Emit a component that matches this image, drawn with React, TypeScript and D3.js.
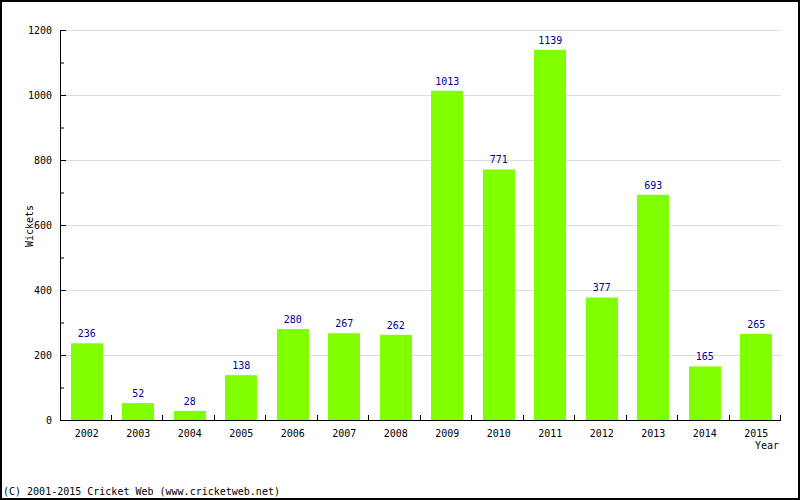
import React from "react";
import * as d3 from "d3";

const years = ["2002","2003","2004","2005","2006","2007","2008","2009","2010","2011","2012","2013","2014","2015"];
const wickets = [236, 52, 28, 138, 280, 267, 262, 1013, 771, 1139, 377, 693, 165, 265];
const yTicks = [0, 200, 400, 600, 800, 1000, 1200];
const yMinorTicks = [100, 300, 500, 700, 900, 1100];

const W = 800, H = 500;
const left = 60, right = 781, top = 30, bottom = 420;
const font = "'DejaVu Sans Mono', monospace";

export default function App() {
  const x = d3.scaleBand<string>().domain(years).range([left, right]).paddingInner(0).paddingOuter(0);
  const y = d3.scaleLinear().domain([0, 1200]).range([bottom, top]);
  const bw = 32;
  return (
    <svg width={W} height={H} style={{ position: "absolute", left: 0, top: 0, display: "block" }}>
      <rect x={0} y={0} width={W} height={H} fill="#fff" />
      {yTicks.filter(t => t > 0).map(t => (
        <line key={"g" + t} x1={left + 6} x2={right} y1={y(t) + 0.5} y2={y(t) + 0.5} stroke="#dddddd" strokeWidth={1} />
      ))}
      {years.map((yr, i) => {
        const cx = x(yr)! + x.bandwidth() / 2;
        const v = wickets[i];
        return (
          <g key={yr}>
            <rect x={Math.round(cx - bw / 2 + 1)} y={y(v)} width={bw} height={bottom - y(v)} fill="#80ff00" />
            <text x={cx + 1} y={y(v) - 6} textAnchor="middle" fontFamily={font} fontSize={10} fill="#000099">{v}</text>
            <text x={cx + 1} y={437} textAnchor="middle" fontFamily={font} fontSize={10} fill="#000">{yr}</text>
          </g>
        );
      })}
      {/* Y axis */}
      <line x1={left + 0.5} x2={left + 0.5} y1={top} y2={bottom + 1} stroke="#000" strokeWidth={1} />
      {yTicks.map(t => (
        <g key={"t" + t}>
          <line x1={left} x2={left + 6} y1={y(t) + 0.5} y2={y(t) + 0.5} stroke="#000" />
          <text x={52} y={y(t) + 4} textAnchor="end" fontFamily={font} fontSize={10} fill="#000">{t}</text>
        </g>
      ))}
      {yMinorTicks.map(t => (
        <line key={"m" + t} x1={left} x2={left + 4} y1={y(t) + 0.5} y2={y(t) + 0.5} stroke="#000" />
      ))}
      {/* X axis */}
      <line x1={left} x2={right} y1={bottom + 0.5} y2={bottom + 0.5} stroke="#000" />
      {years.map(yr => (
        <line key={"xt" + yr} x1={Math.round(x(yr)! + x.bandwidth()) - 0.5} x2={Math.round(x(yr)! + x.bandwidth()) - 0.5} y1={bottom} y2={bottom - 5} stroke="#000" />
      ))}
      <text x={779} y={449} textAnchor="end" fontFamily={font} fontSize={10} fill="#000">Year</text>
      <text transform="translate(33,226) rotate(-90)" textAnchor="middle" fontFamily={font} fontSize={10} fill="#000">Wickets</text>
      <text x={3} y={495} fontFamily={font} fontSize={10} fill="#000">(C) 2001-2015 Cricket Web (www.cricketweb.net)</text>
      <rect x={1} y={1} width={W - 2} height={H - 2} fill="none" stroke="#000" strokeWidth={2} />
    </svg>
  );
}
